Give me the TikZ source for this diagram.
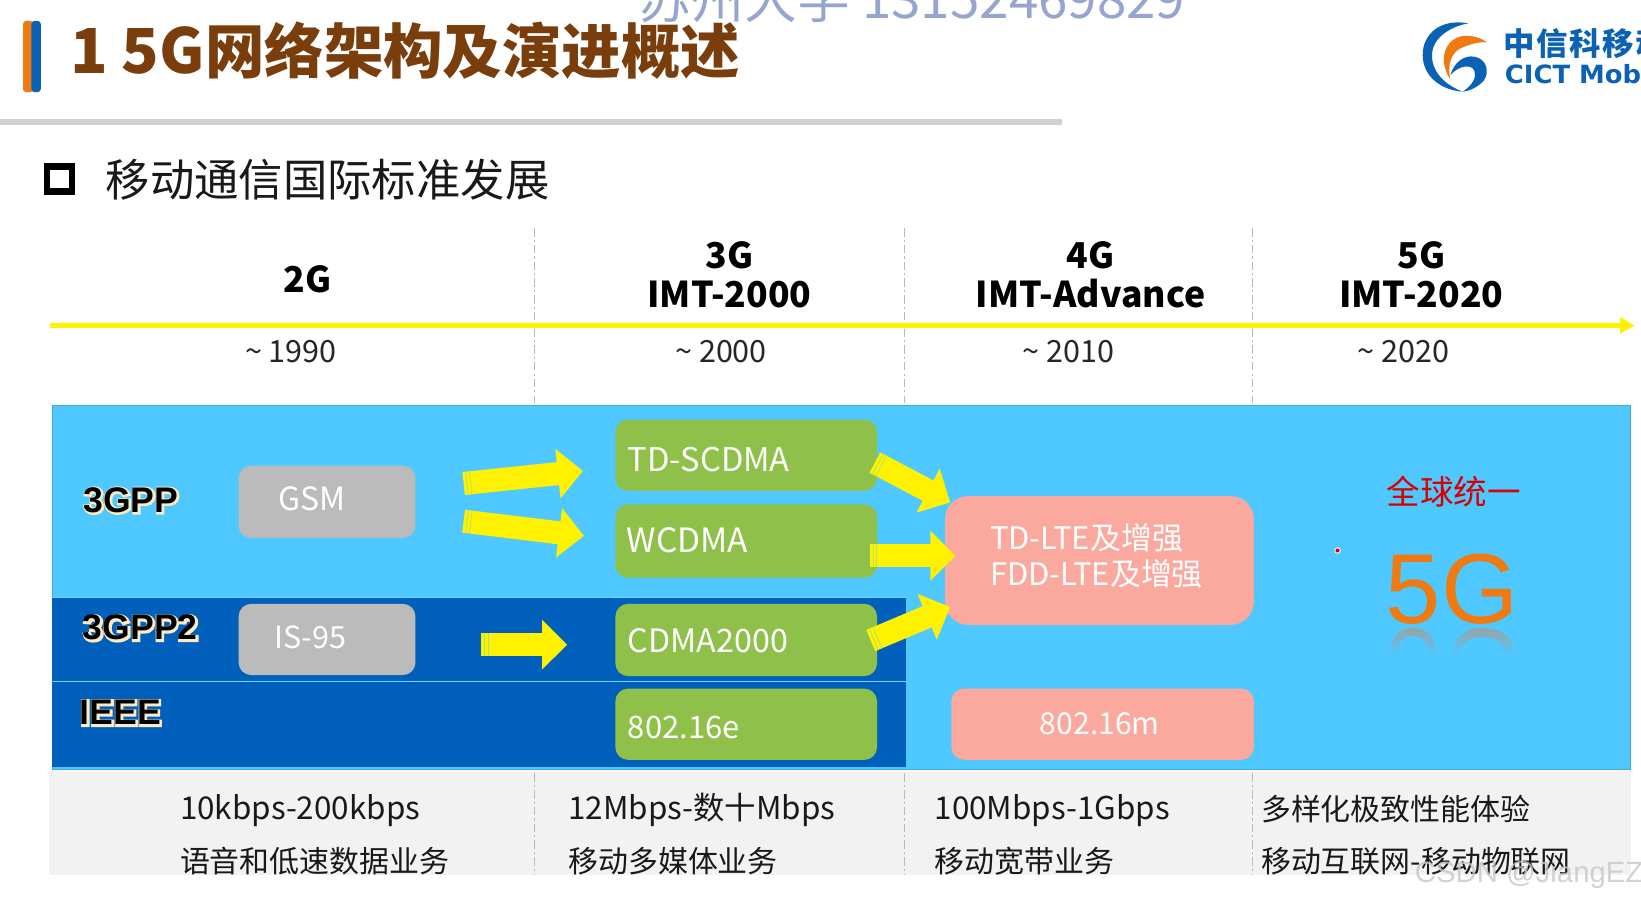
\documentclass[tikz,border=0pt]{standalone}
\usepackage{fontspec}
\setmainfont{Noto Sans CJK SC}
\newfontfamily\arial{Liberation Sans}
\newfontfamily\logolat{DejaVu Sans}
\usetikzlibrary{arrows.meta,calc,fadings}
\definecolor{sky}{HTML}{4FC8FF}
\definecolor{deep}{HTML}{0060BB}
\definecolor{leaf}{HTML}{8FC14A}
\definecolor{rose}{HTML}{FBA99E}
\definecolor{ash}{HTML}{BBBBBB}
\definecolor{paper}{HTML}{F2F2F2}
\definecolor{brownt}{HTML}{7A3E0C}
\definecolor{arrowy}{HTML}{FFF200}
\definecolor{wmark}{HTML}{8496C6}
\definecolor{logob}{HTML}{0B62B5}
\definecolor{logoo}{HTML}{F07A12}
\definecolor{halo}{HTML}{FBEBC4}
\definecolor{mirror}{HTML}{98A5A6}
\newcommand\halotext[1]{\rlap{\kern.35pt\raisebox{-.35pt}{\special{pdf:code 0.98 0.92 0.77 RG 1.6 w 2 Tr}\textcolor{halo}{#1}\special{pdf:code 0 Tr}}}\textcolor{black}{#1}}
\tikzset{
  x=0.5pt,y=-0.5pt,
  every node/.style={inner sep=0pt,outer sep=0pt},
  era/.style={font=\fontsize{17}{19}\selectfont\bfseries,align=center,text=black},
  year/.style={font=\fontsize{14.6}{16}\selectfont,text=black!85},
  rate/.style={anchor=base west,font=\fontsize{15}{17}\selectfont,text=black!90},
  ratecn/.style={rate,font=\fontsize{14.3}{17}\selectfont},
  box/.style={rounded corners=6pt,draw=none},
  boxtext/.style={font=\fontsize{15}{17}\selectfont,text=white},
  org/.style={font=\arial\fontsize{17}{19}\selectfont\bfseries},
  divider/.style={draw=black!28,line width=0.5pt,dash pattern=on 4pt off 1.5pt on 1pt off 1.5pt},
  flow/.style={draw=arrowy,line width=#1},
  flow/.default=11pt,
  stripe/.style={draw=sky!45!arrowy,line width=0.35pt},
}
\newcommand\tailmarks[2]{%
  \draw[stripe] ($(#1)!1.6pt!(#2)!5.5pt!90:(#2)$) -- ($(#1)!1.6pt!(#2)!5.5pt!-90:(#2)$);
  \draw[stripe] ($(#1)!3.4pt!(#2)!5.5pt!90:(#2)$) -- ($(#1)!3.4pt!(#2)!5.5pt!-90:(#2)$);
}
\begin{document}
\begin{tikzpicture}
\useasboundingbox (0,0) rectangle (1568,863);
\fill[white] (0,0) rectangle (1568,863);
% header
\fill[logoo,rounded corners=1.5pt] (22,20) rectangle (32,88);
\fill[logob,rounded corners=1.5pt] (30,20) rectangle (39,88);
\node[anchor=west,text=brownt,font=\fontsize{28.4}{30}\selectfont\bfseries] (title) at (67,48) {{\fontsize{29.6}{30}\selectfont 1 5G}网络架构及演进概述};
\fill[black!18] (0,114) rectangle (1015,119);
\node[anchor=base west,text=wmark,font=\fontsize{25.3}{27}\selectfont,opacity=.85] (wm) at (610,18) {苏州大学 13152469829};
% logo
\begin{scope}[shift={(1335.5,9.56)},scale=0.3185]
\fill[logob] (212,40) .. controls (130,25) and (75,70) .. (75,135) .. controls (75,195) and (125,240) .. (195,245) .. controls (135,222) and (100,180) .. (103,130) .. controls (106,85) and (155,50) .. (212,40) -- cycle;
\fill[logoo] (268,97) .. controls (230,70) and (180,70) .. (155,100) .. controls (130,130) and (135,175) .. (158,208) .. controls (148,165) and (160,125) .. (195,112) .. controls (220,102) and (245,95) .. (268,97) -- cycle;
\fill[logob] (158,195) .. controls (170,155) and (200,135) .. (230,140) .. controls (265,145) and (278,185) .. (258,212) .. controls (240,232) and (215,243) .. (195,245) .. controls (225,225) and (238,200) .. (230,182) .. controls (222,162) and (185,165) .. (158,195) -- cycle;
\end{scope}
\node[anchor=west,text=logob,font=\fontsize{15}{17}\selectfont\bfseries] (logocn) at (1437,42) {\addfontfeatures{LetterSpace=5}中信科移动};
\node[anchor=west,text=logob,font=\logolat\fontsize{12}{14}\selectfont\bfseries,xscale=1.03] (logoen) at (1438,71) {CICT Mobile};
% section heading
\draw[black,line width=3pt] (45,159) rectangle (69,183);
\node[anchor=west,text=black!90,font=\fontsize{21.2}{23}\selectfont] (sec) at (101,172) {移动通信国际标准发展};
% bottom band and main panel
\fill[paper] (47,737) rectangle (1558,836);
\fill[sky,draw=black!15!sky,line width=0.5pt] (50,387) rectangle (1558,735);
\fill[deep] (50,571) rectangle (866,733);
\draw[sky!80!white,line width=0.5pt] (50,571) -- (866,571);
\draw[sky!80!white,line width=0.5pt] (50,651) -- (866,651);
% dividers
\foreach \xx in {511,864,1197} {
  \draw[divider] (\xx,218) -- (\xx,385);
  \draw[divider] (\xx,739) -- (\xx,836);
}
% timeline
\coordinate (tl0) at (48,311);
\coordinate (tl1) at (1562,311);
\draw[arrowy,line width=2.8pt,-{Triangle[length=7pt,width=7.5pt]}] (tl0) -- (tl1);
\node[era] (e2) at (294,267) {2G};
\node[era] (e3) at (697,262.5) {3G\\IMT-2000};
\node[era] (e4) at (1042,262.5) {4G\\IMT-Advance};
\node[era] (e5) at (1358,262.5) {5G\\IMT-2020};
\node[year] (y2) at (278,336) {\textasciitilde\ 1990};
\node[year] (y3) at (689,336) {\textasciitilde\ 2000};
\node[year] (y4) at (1021,336) {\textasciitilde\ 2010};
\node[year] (y5) at (1341,336) {\textasciitilde\ 2020};
% org labels
\node[org] (o1) at (125,478) {\halotext{3GPP}};
\node[org] (o2) at (134,600) {\halotext{3GPP2}};
\node[org] (o3) at (115,681) {\halotext{IEEE}};
% boxes
\fill[ash,box] (228,445) rectangle (397,514);
\fill[ash,box] (228,577) rectangle (397,645);
\fill[leaf,box] (588,401) rectangle (838,469);
\fill[leaf,box] (588,482) rectangle (838,552);
\fill[leaf,box] (588,577) rectangle (838,646);
\fill[leaf,box] (588,658) rectangle (838,726);
\fill[rose,rounded corners=11pt] (903,474) rectangle (1198,597);
\fill[rose,box] (909,658) rectangle (1198,726);
\node[boxtext,font=\fontsize{15.3}{17}\selectfont] (gsm) at (298,477) {GSM};
\node[boxtext,font=\fontsize{14.6}{17}\selectfont] (is95) at (296.5,609) {IS-95};
\node[boxtext,anchor=west,font=\fontsize{15.6}{17}\selectfont] (td) at (600,439) {TD-SCDMA};
\node[boxtext,anchor=west,font=\fontsize{16}{17}\selectfont] (wc) at (599,516) {WCDMA};
\node[boxtext,anchor=west,font=\fontsize{15.4}{17}\selectfont] (cd) at (600,612) {CDMA2000};
\node[boxtext,anchor=west,font=\fontsize{14.8}{17}\selectfont] (e16) at (600,695) {802.16e};
\node[boxtext,anchor=west,align=left,font=\fontsize{14.8}{17}\selectfont] (lte) at (946,531) {TD-LTE及增强\\FDD-LTE及增强};
\node[boxtext,font=\fontsize{14.4}{17}\selectfont] (m16) at (1051,692) {802.16m};
% block arrows
\coordinate (a1s) at (443,462); \coordinate (a1e) at (557,450);
\coordinate (a2s) at (443,498); \coordinate (a2e) at (558,512);
\coordinate (a3s) at (460,616); \coordinate (a3e) at (542,616);
\coordinate (a4s) at (836,442); \coordinate (a4e) at (908,480);
\coordinate (a5s) at (831,531); \coordinate (a5e) at (913,531);
\coordinate (a6s) at (832,612); \coordinate (a6e) at (908,580);
\foreach \st/\en in {a1s/a1e,a2s/a2e,a3s/a3e,a4s/a4e,a5s/a5e,a6s/a6e} {
  \draw[flow,-{Triangle[length=12pt,width=23pt]}] (\st) -- (\en);
  \tailmarks{\st}{\en}
}
% 5G
\node[text=red!85!black,font=\fontsize{16}{18}\selectfont] (uni) at (1389,470) {全球统一};
\node[text=logoo,font=\arial\fontsize{47.5}{50}\selectfont] (big) at (1387.5,563) {5G};
\fill[mirror,path fading=south] (1328,624) .. controls (1330,605) and (1340,600) .. (1350,600) .. controls (1362,600) and (1372,607) .. (1372,626) -- (1365,626) .. controls (1364,612) and (1358,608) .. (1350,608) .. controls (1342,608) and (1337,612) .. (1334,624) -- cycle;
\fill[mirror,path fading=south] (1386,626) .. controls (1392,607) and (1402,600) .. (1416,600) .. controls (1432,600) and (1446,606) .. (1447,626) -- (1441,626) .. controls (1438,614) and (1428,609) .. (1416,609) .. controls (1404,609) and (1396,614) .. (1393,626) -- cycle;
\fill[white] (1278,526) circle (3);
\fill[red!85!black] (1278,526) circle (2);
% rates
\node[rate] (r1a) at (172,783) {10kbps-200kbps};
\node[ratecn] (r1b) at (172,834) {语音和低速数据业务};
\node[rate] (r2a) at (543,783) {12Mbps-数十Mbps};
\node[ratecn] (r2b) at (543,834) {移动多媒体业务};
\node[rate] (r3a) at (893,783) {100Mbps-1Gbps};
\node[ratecn] (r3b) at (893,834) {移动宽带业务};
\node[ratecn] (r4a) at (1205,784) {多样化极致性能体验};
\node[ratecn] (r4b) at (1205,834) {移动互联网-移动物联网};
\node[anchor=west,text=black!22,opacity=.8,font=\arial\fontsize{14}{16}\selectfont] (csdn) at (1352,836) {CSDN @JiangEZ};
\end{tikzpicture}
\end{document}
